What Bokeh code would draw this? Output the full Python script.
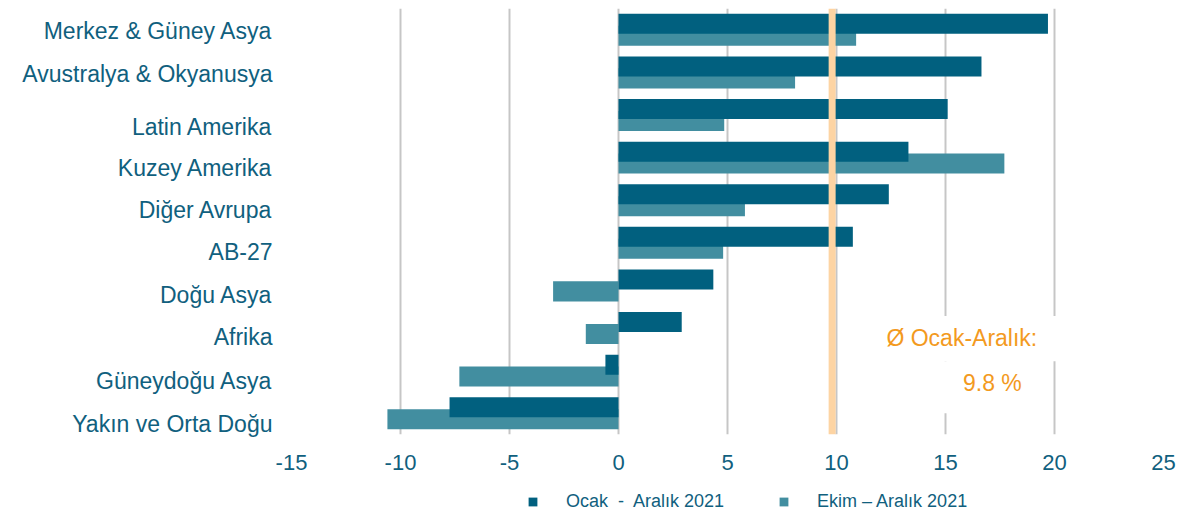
from bokeh.plotting import figure
from bokeh.layouts import column
from bokeh.models import (ColumnDataSource, Range1d, FixedTicker, Span, Label,
                          BoxAnnotation, Legend, LegendItem, CustomJSTickFormatter)
from bokeh.embed import file_html
from bokeh.resources import INLINE

categories = ["Merkez & Güney Asya", "Avustralya & Okyanusya", "Latin Amerika",
              "Kuzey Amerika", "Diğer Avrupa", "AB-27", "Doğu Asya", "Afrika",
              "Güneydoğu Asya", "Yakın ve Orta Doğu"]
ocak_aralik = [19.7, 16.65, 15.1, 13.3, 12.4, 10.75, 4.35, 2.9, -0.6, -7.75]
ekim_aralik = [10.9, 8.1, 4.85, 17.7, 5.8, 4.8, -3.0, -1.5, -7.3, -10.6]
series_names = ["Ocak  -  Aralık 2021", "Ekim – Aralık 2021"]
average = 9.8
x_ticks = [-15, -10, -5, 0, 5, 10, 15, 20, 25]

DARK = "#01607f"
LIGHT = "#428ea0"
TEXT = "#10607e"
ORANGE = "#f39a1e"
FONT = "Liberation Sans"

n = len(categories)
pos = [n - 1 - i for i in range(n)]

src = ColumnDataSource(dict(
    y_dark=[p_ + 0.14 for p_ in pos],
    y_light=[p_ - 0.14 for p_ in pos],
    dark=ocak_aralik, light=ekim_aralik))

p = figure(frame_width=872, frame_height=426, x_range=Range1d(-15, 25),
           y_range=Range1d(-0.5, n - 0.5), output_backend="svg",
           toolbar_location=None, min_border_left=291, min_border_right=16,
           min_border_top=8, min_border_bottom=44)
p.outline_line_color = None
p.background_fill_color = "white"

r_light = p.hbar(y="y_light", left=0, right="light", height=0.47, source=src,
                 fill_color=LIGHT, line_color=None)
r_dark = p.hbar(y="y_dark", left=0, right="dark", height=0.47, source=src,
                fill_color=DARK, line_color=None)

# grid
p.ygrid.grid_line_color = None
p.xgrid.ticker = FixedTicker(ticks=x_ticks)
p.xgrid.grid_line_color = "#c6c6c6"
p.xgrid.grid_line_width = 2

# x axis
p.xaxis.ticker = FixedTicker(ticks=x_ticks)
p.xaxis.formatter = CustomJSTickFormatter(code="return String(tick);")
p.xaxis.axis_line_color = None
p.xaxis.major_tick_line_color = None
p.xaxis.minor_tick_line_color = None
p.xaxis.major_tick_out = 0
p.xaxis.major_tick_in = 0
p.xaxis.major_label_text_font = FONT
p.xaxis.major_label_text_font_size = "22px"
p.xaxis.major_label_text_color = TEXT
p.xaxis.major_label_standoff = 20

# y axis: category labels (slightly lowered like the reference)
label_shift_px = [1, 2, 12, 10, 10, 9, 10, 9, 10, 11]
row_px = 426 / n
y_ticks = [yp - s / row_px for yp, s in zip(pos, label_shift_px)]
order = sorted(range(n), key=lambda i: y_ticks[i])
p.yaxis.ticker = FixedTicker(ticks=[y_ticks[i] for i in order])
p.yaxis.formatter = CustomJSTickFormatter(
    args=dict(labels=[categories[i] for i in order]),
    code="return labels[index];")
p.yaxis.axis_line_color = None
p.yaxis.major_tick_line_color = None
p.yaxis.minor_tick_line_color = None
p.yaxis.major_tick_out = 0
p.yaxis.major_tick_in = 0
p.yaxis.major_label_standoff = 19
p.yaxis.major_label_text_font = FONT
p.yaxis.major_label_text_font_size = "23px"
p.yaxis.major_label_text_color = TEXT

# white boxes behind the average text
p.add_layout(BoxAnnotation(left=11.5, right=20.4, top=2.28, bottom=1.22,
                           fill_color="white", fill_alpha=1, line_color=None))
p.add_layout(BoxAnnotation(left=14.3, right=19.4, top=1.22, bottom=0.0,
                           fill_color="white", fill_alpha=1, line_color=None))

p.add_layout(Span(location=average, dimension="height", line_color="#fdd4a3",
                  line_width=7))

p.add_layout(Label(x=15.75, y=1.76, text="Ø Ocak-Aralık:", text_align="center",
                   text_baseline="middle", text_font=FONT, text_font_size="23px",
                   text_color=ORANGE))
p.add_layout(Label(x=17.15, y=0.71, text=f"{average} %", text_align="center",
                   text_baseline="middle", text_font=FONT, text_font_size="23px",
                   text_color=ORANGE))

# legend in a thin strip below the chart (frame aligned with the chart frame;
# the series glyphs here lie outside the strip's visible range)
leg = figure(frame_width=872, height=40, x_range=Range1d(291, 1163),
             y_range=Range1d(100, 140), output_backend="svg",
             toolbar_location=None, x_axis_type=None, y_axis_type=None,
             min_border_left=291, min_border_right=16, min_border_top=0,
             min_border_bottom=0)
leg.outline_line_color = None
leg.xgrid.visible = False
leg.ygrid.visible = False
g_dark = leg.hbar(y="y_dark", left=0, right="dark", height=0.47, source=src,
                  fill_color=DARK, line_color=None)
g_light = leg.hbar(y="y_light", left=0, right="light", height=0.47, source=src,
                   fill_color=LIGHT, line_color=None)
legend = Legend(items=[LegendItem(label=series_names[0], renderers=[g_dark]),
                       LegendItem(label=series_names[1], renderers=[g_light])],
                orientation="horizontal", location=(236, 5),
                glyph_width=11, glyph_height=11, label_standoff=28, spacing=54,
                label_text_font=FONT, label_text_font_size="18px",
                label_text_color=TEXT, border_line_color=None,
                background_fill_alpha=0, padding=0, margin=0, label_height=24)
leg.add_layout(legend, "center")

open("out.html", "w").write(file_html(column(p, leg), INLINE))
